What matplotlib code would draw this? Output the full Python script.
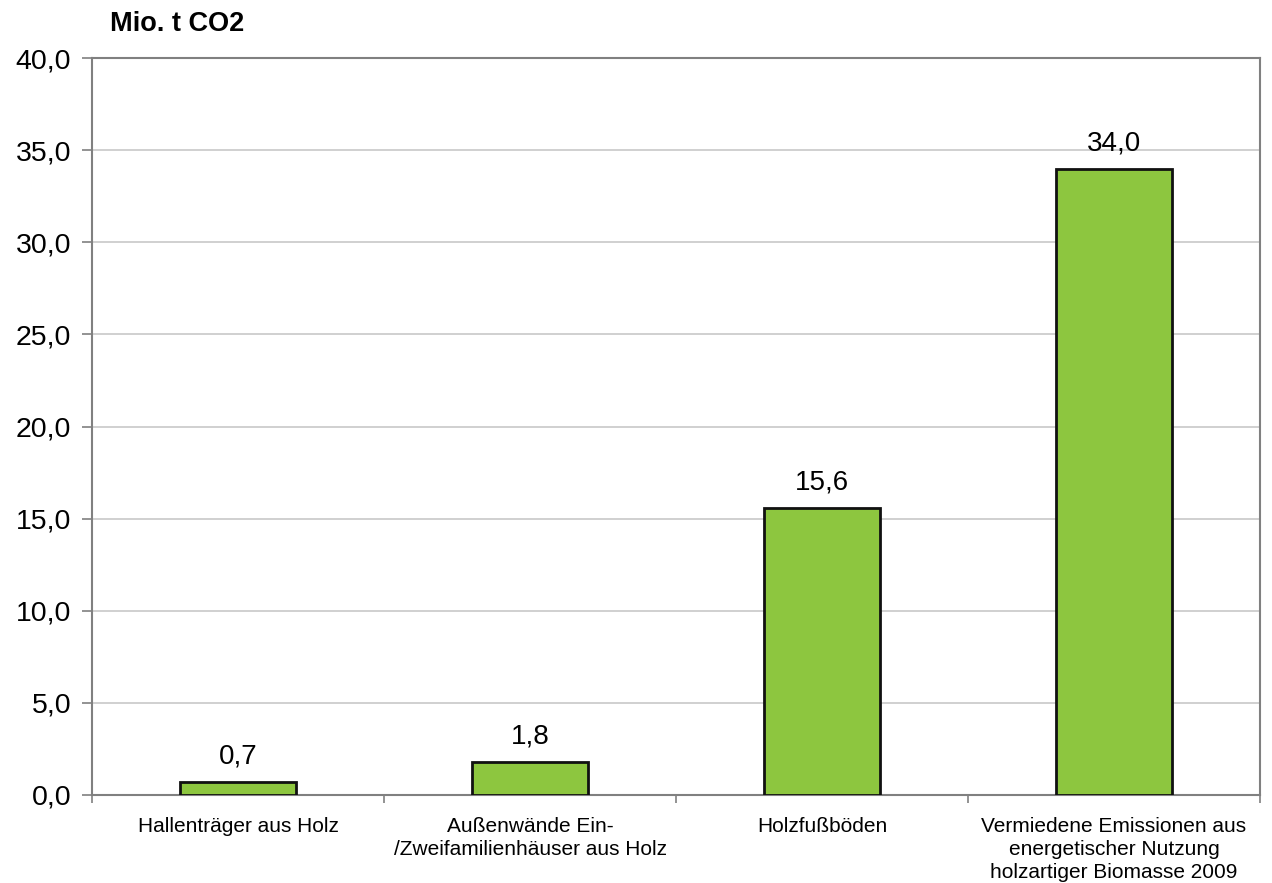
import matplotlib.pyplot as plt
import numpy as np

plt.rcParams['font.family'] = ['Liberation Sans', 'DejaVu Sans']

categories = [
    "Hallenträger aus Holz",
    "Außenwände Ein-\n/Zweifamilienhäuser aus Holz",
    "Holzfußböden",
    "Vermiedene Emissionen aus\nenergetischer Nutzung\nholzartiger Biomasse 2009",
]
values = [0.7, 1.8, 15.6, 34.0]
y_ticks = [0, 5, 10, 15, 20, 25, 30, 35, 40]

fig = plt.figure(figsize=(12.72, 8.83), dpi=100)
ax = fig.add_axes([92 / 1272, 1 - 795 / 883, (1260 - 92) / 1272, (795 - 58) / 883])

x = np.arange(len(values))
ax.bar(x, values, width=0.4, color='#8dc63f', edgecolor='#111111', linewidth=2, zorder=3)

for xi, v in zip(x, values):
    ax.annotate(f"{v:.1f}".replace('.', ','), (xi, v), xytext=(0, 9),
                textcoords='offset points', ha='center', va='bottom', fontsize=20)

ax.set_xlim(-0.5, len(values) - 0.5)
ax.set_ylim(0, 40)
ax.set_yticks(y_ticks)
ax.set_yticklabels([f"{t:.1f}".replace('.', ',') for t in y_ticks], fontsize=20.5)
ax.yaxis.grid(True, color='#c8c8c8', linewidth=1.2, zorder=0)
ax.tick_params(axis='y', length=7, color='#808080', width=1.2, pad=8)

# category labels centred, ticks at category boundaries
ax.set_xticks(np.arange(len(values) + 1) - 0.5)
ax.set_xticklabels([])
ax.set_xticks(x, minor=True)
ax.set_xticklabels(categories, minor=True, fontsize=15, linespacing=1.25, va='top')
ax.tick_params(axis='x', which='major', length=6, color='#808080', width=1.2)
ax.tick_params(axis='x', which='minor', length=0, pad=16)

for s in ax.spines.values():
    s.set_color('#808080')
    s.set_linewidth(1.5)

fig.text(110 / 1272, 1 - 24 / 883, "Mio. t CO2", fontsize=19.5, fontweight='bold', va='center', ha='left')

fig.savefig('out.png', dpi=100)
